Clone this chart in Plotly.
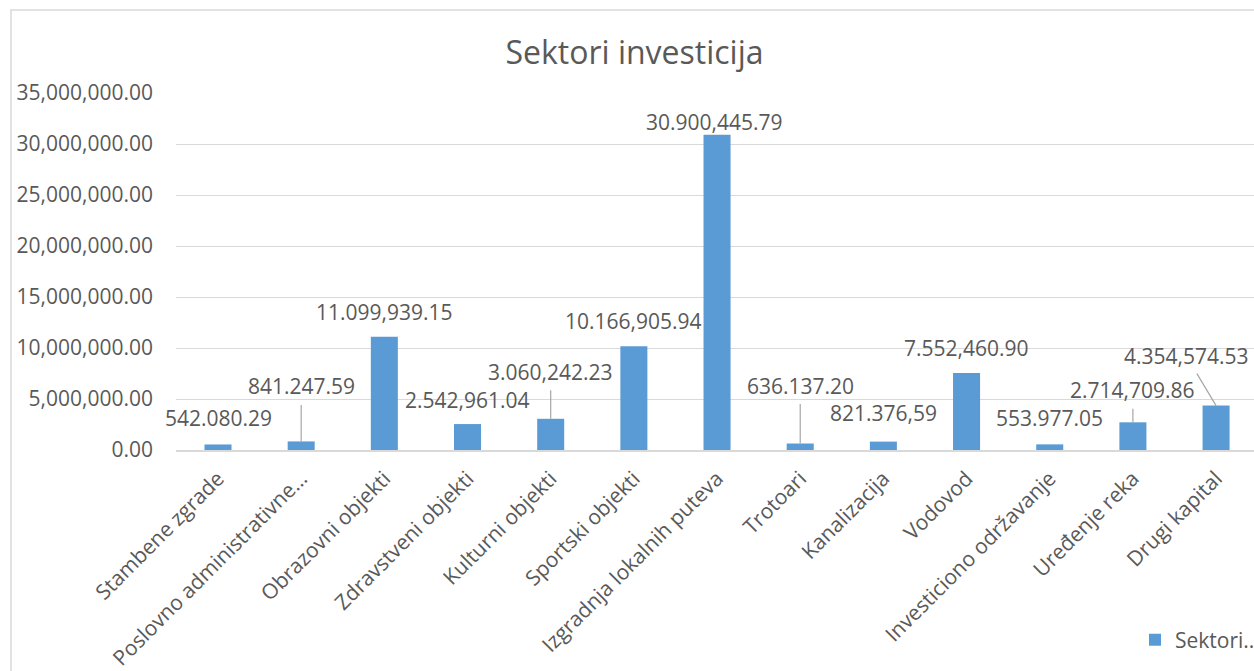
import plotly.graph_objects as go

categories = [
    "Stambene zgrade", "Poslovno administrativne…", "Obrazovni objekti",
    "Zdravstveni objekti", "Kulturni objekti", "Sportski objekti",
    "Izgradnja lokalnih puteva", "Trotoari", "Kanalizacija", "Vodovod",
    "Investiciono održavanje", "Uređenje reka", "Drugi kapital",
]
values = [
    542080.29, 841247.59, 11099939.15, 2542961.04, 3060242.23, 10166905.94,
    30900445.79, 636137.20, 821376.59, 7552460.90, 553977.05, 2714709.86,
    4354574.53,
]
value_labels = [
    "542.080.29", "841.247.59", "11.099,939.15", "2.542,961.04", "3.060,242.23",
    "10.166,905.94", "30.900,445.79", "636.137.20", "821.376,59", "7.552,460.90",
    "553.977.05", "2.714,709.86", "4.354,574.53",
]
y_ticks = [0, 5e6, 10e6, 15e6, 20e6, 25e6, 30e6, 35e6]
series_name = "Sektori.."
title_text = "Sektori investicija"

# label placement (pixel offsets from bar top) and whether a leader line is drawn
label_offsets = [(0, -26), (0, -55), (0, -25), (0, -24), (0, -47), (0, -25), (-3, -13),
                 (0, -58), (0, -29), (0, -25), (0, -26), (0, -32), (-30, -50)]
leader = [False, True, False, False, True, False, False, True, False, False, False, True, True]

FONT = "Open Sans"
TXT = "#595959"
GRID = "#D9D9D9"
BAR = "#5B9BD5"

fig = go.Figure()
fig.add_trace(go.Bar(
    x=categories, y=values, name=series_name,
    marker=dict(color=BAR, line=dict(width=0)),
    width=0.325, showlegend=True,
))

annotations = []
for c, v, t, (dx, dy), ld in zip(categories, values, value_labels, label_offsets, leader):
    if ld:
        annotations.append(dict(
            x=c, y=v, xref="x", yref="y", text=t, showarrow=True,
            arrowhead=0, arrowwidth=1.2, arrowcolor="#A6A6A6",
            ax=dx, ay=dy, standoff=0, startstandoff=3,
            font=dict(family=FONT, size=21, color=TXT),
        ))
    else:
        annotations.append(dict(
            x=c, y=v, xref="x", yref="y", text=t, showarrow=False,
            xshift=dx, yshift=-dy, yanchor="middle", xanchor="center",
            font=dict(family=FONT, size=21, color=TXT),
        ))

fig.update_layout(
    width=1254, height=671,
    margin=dict(l=176, r=0, t=93, b=221, autoexpand=False),
    paper_bgcolor="white", plot_bgcolor="white",
    font=dict(family=FONT, size=21, color=TXT),
    title=dict(text=title_text, x=634.5 / 1254, xref="container", xanchor="center",
               y=1 - 53 / 671, yref="container", yanchor="middle",
               font=dict(family=FONT, size=32, color=TXT)),
    bargap=0.675,
    showlegend=True,
    legend=dict(xref="container", yref="container", x=1135 / 1254, y=1 - 640 / 671,
                xanchor="left", yanchor="middle", bgcolor="rgba(0,0,0,0)",
                font=dict(family=FONT, size=21, color=TXT)),
    annotations=annotations,
    shapes=[dict(type="rect", xref="paper", yref="paper",
                 x0=(11 - 176) / 1078, x1=1.05, y0=-0.7, y1=(450 - 10) / 357,
                 line=dict(color=GRID, width=1.5), fillcolor="rgba(0,0,0,0)", layer="below")],
)
fig.update_xaxes(
    type="category", range=[-0.505, 12.456], tickangle=-45,
    showgrid=False, showline=True, linecolor=GRID, linewidth=2,
    ticks="", tickfont=dict(family=FONT, size=21, color=TXT), ticklabelstandoff=6,
)
fig.update_yaxes(
    range=[0, 35e6], tickvals=y_ticks, tickformat=",.2f",
    showgrid=True, gridcolor=GRID, gridwidth=1.3, zeroline=False,
    showline=False, ticks="", ticklabelstandoff=22,
    tickfont=dict(family=FONT, size=21, color=TXT),
)

fig.write_html(
    "out.html",
    config={"displayModeBar": False},
    post_script=(
        "document.body.style.margin='0';"
        "document.body.style.overflow='hidden';"
        "document.documentElement.style.overflow='hidden';"
    ),
)
